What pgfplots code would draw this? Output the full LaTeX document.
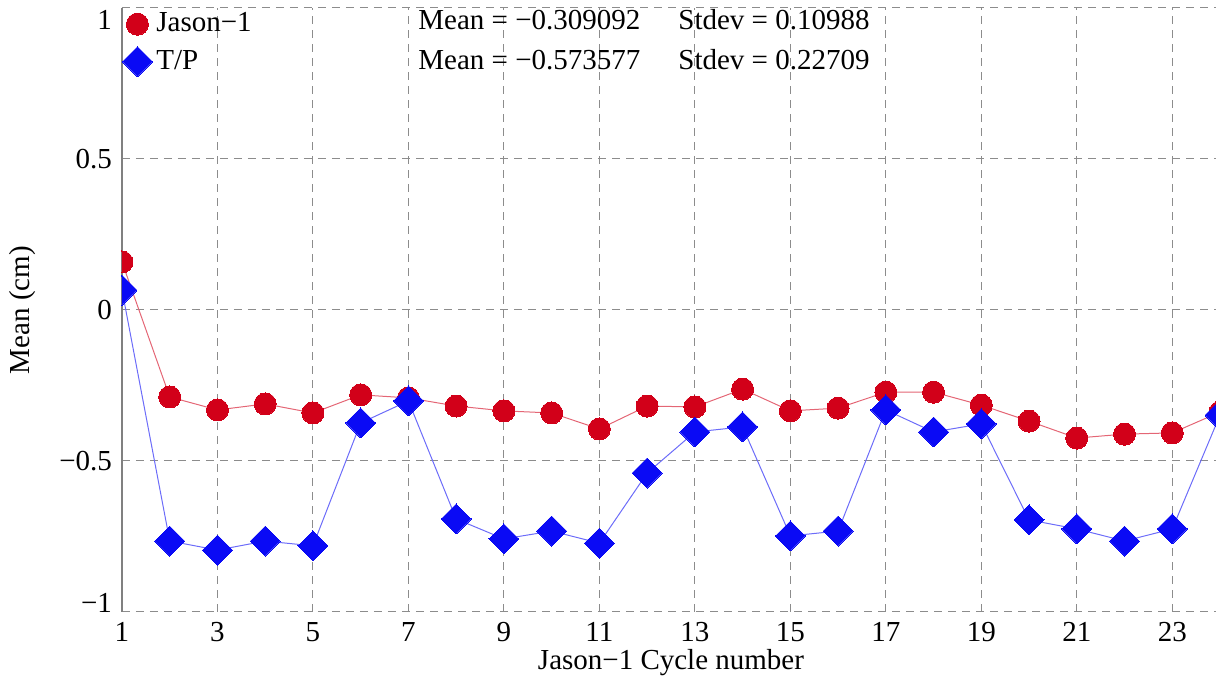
\documentclass[border=0pt]{standalone}
\usepackage{fontspec}
\setmainfont{Liberation Serif}
\usepackage{pgfplots}
\pgfplotsset{compat=1.18}
\usetikzlibrary{calc}
\definecolor{jred}{RGB}{210,0,25}
\definecolor{tpblue}{RGB}{10,10,245}
\begin{document}
\fontsize{14.5pt}{17pt}\selectfont
\begin{tikzpicture}
\begin{axis}[name=ax, scale only axis, width=549pt, height=302pt,
  xmin=1, xmax=24, ymin=-1, ymax=1,
  xtick={1,3,...,23}, xticklabels={1,3,5,7,9,11,13,15,17,19,21,23},
  ytick={-1,-0.5,0,0.5,1},
  yticklabels={\raisebox{0pt}[\height][\dimexpr\depth+9pt\relax]{−1}, −0.5, 0, 0.5, \raisebox{0pt}[\dimexpr\height+12pt\relax][\depth]{1}},
  major tick length=0pt,
  grid=major,
  grid style={gray!90, dash pattern=on 4pt off 3pt, line width=0.5pt},
  separate axis lines,
  x axis line style={draw=none},
  y axis line style={gray, line width=0.6pt},
  xlabel={Jason−1 Cycle number}, ylabel={Mean (cm)},
  xlabel style={at={(axis description cs:0.5,-0.083)}, anchor=center},
  ylabel style={at={(axis description cs:-0.091,0.5)}, anchor=center},
  clip marker paths=true,
  legend style={at={(rel axis cs:0,1)}, anchor=north west, draw=none, fill=none,
    inner sep=0pt, row sep=3pt, nodes={inner sep=2pt}},
  legend cell align=left,
  legend image code/.code={\draw[#1] plot[only marks] coordinates {(0.3cm,0cm)};},
]
\addplot[draw=jred!60, line width=0.5pt, mark=*, mark size=5.5pt,
  mark options={solid, fill=jred, draw=jred, line width=0pt}] coordinates {
(1,0.159) (2,-0.288) (3,-0.331) (4,-0.311) (5,-0.341) (6,-0.281) (7,-0.291) (8,-0.318)
(9,-0.334) (10,-0.341) (11,-0.394) (12,-0.318) (13,-0.321) (14,-0.262) (15,-0.334) (16,-0.325)
(17,-0.272) (18,-0.272) (19,-0.315) (20,-0.368) (21,-0.424) (22,-0.411) (23,-0.407) (24,-0.338)};
\addlegendentry{Jason−1}
\addplot[draw=tpblue!60, line width=0.5pt, mark=square*, mark size=5.3pt,
  mark options={solid, rotate=45, fill=tpblue, draw=tpblue, line width=0pt}] coordinates {
(1,0.066) (2,-0.765) (3,-0.795) (4,-0.765) (5,-0.781) (6,-0.374) (7,-0.301) (8,-0.692)
(9,-0.758) (10,-0.732) (11,-0.772) (12,-0.540) (13,-0.404) (14,-0.387) (15,-0.748) (16,-0.732)
(17,-0.331) (18,-0.404) (19,-0.377) (20,-0.695) (21,-0.725) (22,-0.765) (23,-0.725) (24,-0.348)};
\addlegendentry{T/P}
\node[anchor=west, inner sep=0pt] at (rel axis cs:0.2696,0.980) {Mean = −0.309092};
\node[anchor=west, inner sep=0pt] at (rel axis cs:0.5064,0.980) {Stdev = 0.10988};
\node[anchor=west, inner sep=0pt] at (rel axis cs:0.2696,0.914) {Mean = −0.573577};
\node[anchor=west, inner sep=0pt] at (rel axis cs:0.5064,0.914) {Stdev = 0.22709};
\end{axis}
\pgfresetboundingbox
\path[use as bounding box] ($(ax.south west)+(-61pt,-34pt)$) rectangle ($(ax.north east)+(-2pt,4pt)$);
\end{tikzpicture}
\end{document}
